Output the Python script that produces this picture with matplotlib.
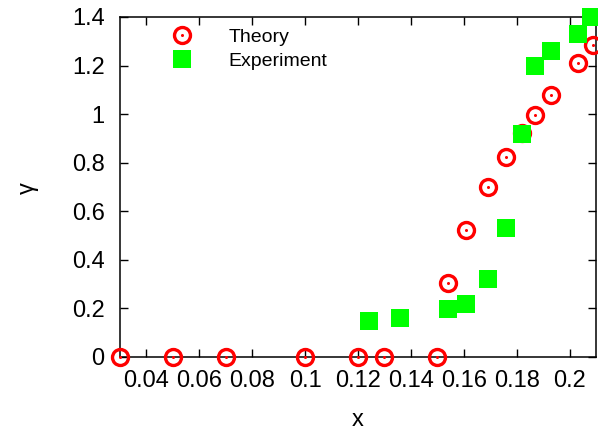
import matplotlib.pyplot as plt
from matplotlib.ticker import FuncFormatter

plt.rcParams['font.family'] = ['Liberation Sans', 'DejaVu Sans']

# values
theory_x = [0.030, 0.050, 0.070, 0.100, 0.120, 0.130, 0.150, 0.154, 0.161,
            0.169, 0.176, 0.182, 0.187, 0.193, 0.203, 0.209]
theory_y = [0.0, 0.0, 0.0, 0.0, 0.0, 0.0, 0.0, 0.303, 0.524,
            0.698, 0.825, 0.922, 0.996, 1.080, 1.210, 1.283]

exp_x = [0.124, 0.136, 0.154, 0.161, 0.169, 0.176, 0.182, 0.187, 0.193, 0.203, 0.208]
exp_y = [0.147, 0.160, 0.198, 0.218, 0.321, 0.530, 0.917, 1.199, 1.260, 1.330, 1.400]

x_ticks = [0.04, 0.06, 0.08, 0.10, 0.12, 0.14, 0.16, 0.18, 0.20]
y_ticks = [0.0, 0.2, 0.4, 0.6, 0.8, 1.0, 1.2, 1.4]

fig = plt.figure(figsize=(5.98, 4.30), dpi=100)
ax = fig.add_axes([0.2007, 0.1698, 0.7960, 0.7907])

ring, = ax.plot(theory_x, theory_y, linestyle='none', marker='o', markersize=11.5,
                markerfacecolor='none', markeredgecolor='#ff0000',
                markeredgewidth=2.4, clip_on=False, zorder=3)
dot, = ax.plot(theory_x, theory_y, linestyle='none', marker='o', markersize=2.2,
               markerfacecolor='#ff0000', markeredgewidth=0, clip_on=False, zorder=3)
sq, = ax.plot(exp_x, exp_y, linestyle='none', marker='s', markersize=12.5,
              markerfacecolor='#00ff00', markeredgewidth=0, clip_on=False, zorder=4)

ax.set_xlim(0.03, 0.21)
ax.set_ylim(0, 1.4)
ax.set_xticks(x_ticks)
ax.set_yticks(y_ticks)
fmt = FuncFormatter(lambda v, p: '%g' % round(v, 4))
ax.xaxis.set_major_formatter(fmt)
ax.yaxis.set_major_formatter(fmt)
ax.tick_params(direction='in', length=6, width=1, top=True, right=True,
               labelsize=17, colors='black')
ax.tick_params(axis='x', pad=9.5)
ax.tick_params(axis='y', pad=11)
for s in ax.spines.values():
    s.set_linewidth(1.1)

ax.set_xlabel('x', fontsize=17, labelpad=12)
ax.set_ylabel('γ', fontsize=17)
ax.yaxis.set_label_coords(-0.17, 0.497)

ax.legend([(ring, dot), sq], ['Theory', 'Experiment'], loc='upper left',
          bbox_to_anchor=(0.11, 0.967), frameon=False, fontsize=14,
          handlelength=1.0, handletextpad=1.9, borderpad=0, borderaxespad=0,
          labelspacing=0.33)

plt.savefig('out.png', dpi=100)
